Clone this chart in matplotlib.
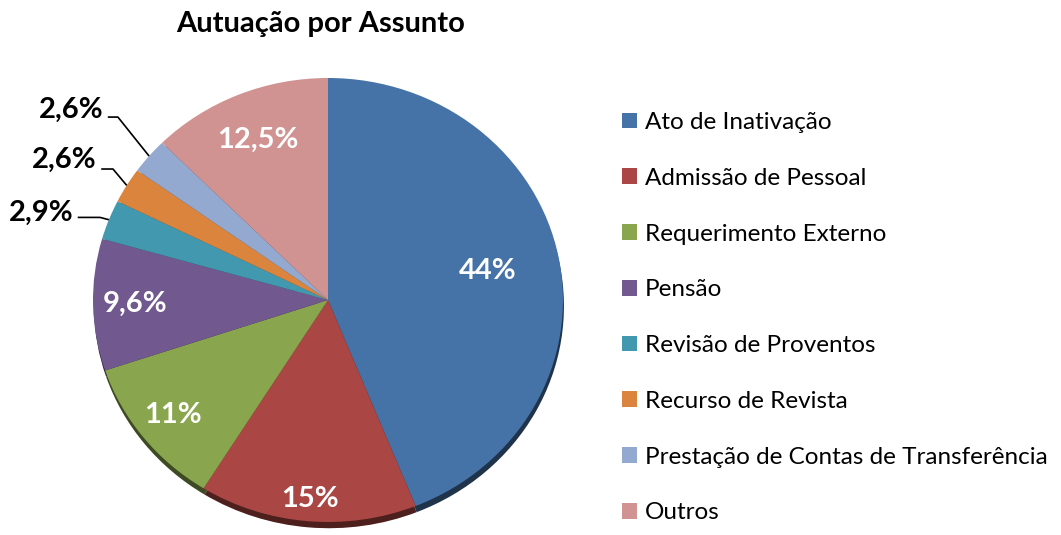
import numpy as np
import matplotlib
matplotlib.use('Agg')
from matplotlib import pyplot as plt
from matplotlib.colors import to_rgb
from matplotlib.patches import Patch

# Chart data
categories = ['Ato de Inativação', 'Admissão de Pessoal', 'Requerimento Externo',
              'Pensão', 'Revisão de Proventos', 'Recurso de Revista',
              'Prestação de Contas de Transferência', 'Outros']
values = [44, 15, 11, 9.6, 2.9, 2.6, 2.6, 12.5]
value_labels = ['44%', '15%', '11%', '9,6%', '2,9%', '2,6%', '2,6%', '12,5%']
colors = ['#4572A7', '#AA4643', '#89A54E', '#71588F', '#4198AF', '#DB843D',
          '#93A9CF', '#D19392']

plt.rcParams['font.family'] = ['Lato', 'DejaVu Sans']

W, H = 1061, 535
fig = plt.figure(figsize=(W / 100, H / 100), dpi=100)

# Axes placed so the pie fills an ellipse of 470 x 444 px centred at (328, 300)
ax = fig.add_axes([93 / W, (H - 522) / H, 470 / W, 444 / H])

# darker copy of the pie slightly below, gives the 3D edge
dark = [tuple(0.45 * v for v in to_rgb(c)) for c in colors]
ax.pie(values, colors=dark, startangle=90, counterclock=False, radius=1.0,
       center=(0.004, -0.028), wedgeprops=dict(linewidth=0))

wedges, _ = ax.pie(values, colors=colors, startangle=90, counterclock=False,
                   radius=1.0, wedgeprops=dict(linewidth=0))
ax.set_aspect('auto')
ax.set_xlim(-1, 1)
ax.set_ylim(-1, 1)
ax.axis('off')

# Labels inside the slices (radius as fraction of pie radius)
inner_r = {0: 0.69, 1: 0.90, 2: 0.84, 3: 0.82, 7: 0.78}
for i, r in inner_r.items():
    w = wedges[i]
    ang = np.deg2rad((w.theta1 + w.theta2) / 2)
    ax.text(r * np.cos(ang), r * np.sin(ang), value_labels[i], color='white',
            fontsize=21, fontweight='bold', ha='center', va='center')

# Labels outside with leader lines: (text right x, text y, elbow x, elbow y)
outer = {4: (-1.085, 0.392, -0.97, 0.372),
         5: (-0.985, 0.630, -0.915, 0.590),
         6: (-0.957, 0.856, -0.894, 0.824)}
for i, (tx, ty, ex, ey) in outer.items():
    w = wedges[i]
    ang = np.deg2rad((w.theta1 + w.theta2) / 2)
    px, py = np.cos(ang), np.sin(ang)
    ax.plot([tx + 0.02, ex, px], [ey, ey, py], color='black', lw=1.2,
            clip_on=False, solid_capstyle='butt')
    ax.text(tx, ty, value_labels[i], color='black', fontsize=21,
            fontweight='bold', ha='right', va='center')

fig.text(321 / W, 1 - 24 / H, 'Autuação por Assunto', fontsize=21,
         fontweight='bold', ha='center', va='center')

handles = [Patch(facecolor=c, edgecolor='none') for c in colors]
fig.legend(handles, categories, loc='upper left',
           bbox_to_anchor=(622 / W, 1 - 112 / H), frameon=False,
           fontsize=17.5, handlelength=0.62, handleheight=0.62,
           handletextpad=0.33, labelspacing=1.43, borderaxespad=0,
           borderpad=0)

fig.savefig('out.png', dpi=100)
